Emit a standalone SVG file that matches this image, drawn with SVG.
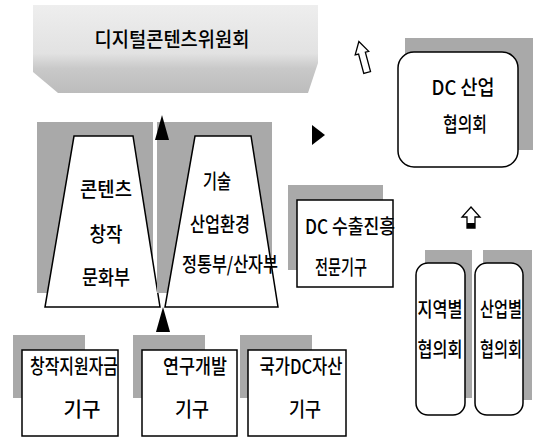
<svg xmlns="http://www.w3.org/2000/svg" width="536" height="437" viewBox="0 0 536 437">
<style>
.t{font-family:"Noto Sans CJK KR","Noto Sans",sans-serif;font-size:20px;font-weight:500;fill:#000;text-anchor:middle}
.box{fill:#fff;stroke:#000;stroke-width:1.5}
.sh{fill:#a9a9a9}
.arr{fill:#000}
.hol{fill:#fff;stroke:#000;stroke-width:1.3}
</style>
<defs>
<linearGradient id="bannerG" x1="0" y1="0" x2="0" y2="1">
<stop offset="0" stop-color="#eeeeee"/>
<stop offset="0.55" stop-color="#e2e2e2"/>
<stop offset="0.72" stop-color="#c9c9c9"/>
<stop offset="1" stop-color="#bcbcbc"/>
</linearGradient>
</defs>
<rect width="536" height="437" fill="#fff"/>

<g id="banner">
<polygon points="33,5 318,5 318,63 308,93 58,93 33,72" fill="url(#bannerG)"/>
<text class="t" x="172" y="47" font-size="25" textLength="155" lengthAdjust="spacingAndGlyphs">디지털콘텐츠위원회</text>
</g>

<g id="culture">
<rect class="sh" x="37" y="122" width="116" height="171"/>
<polygon class="box" points="74,136 133,136 160,307 45,307"/>
<text class="t" x="106" y="197" textLength="52" lengthAdjust="spacingAndGlyphs">콘텐츠</text>
<text class="t" x="106" y="242" textLength="33" lengthAdjust="spacingAndGlyphs">창작</text>
<text class="t" x="106" y="285" textLength="48" lengthAdjust="spacingAndGlyphs">문화부</text>
</g>

<g id="tech">
<rect class="sh" x="157" y="122" width="115" height="171"/>
<polygon class="box" points="195,136 251,136 278,307 165,307"/>
<text class="t" x="217" y="189" textLength="28" lengthAdjust="spacingAndGlyphs">기술</text>
<text class="t" x="220" y="232" textLength="60" lengthAdjust="spacingAndGlyphs">산업환경</text>
<text class="t" x="230" y="272" textLength="96" lengthAdjust="spacingAndGlyphs">정통부/산자부</text>
</g>

<g id="export">
<rect class="sh" x="288" y="185" width="95" height="85"/>
<rect class="box" x="297" y="200" width="96" height="87"/>
<text class="t" x="350" y="234" textLength="90" lengthAdjust="spacingAndGlyphs">DC 수출진흥</text>
<text class="t" x="341" y="275" textLength="52" lengthAdjust="spacingAndGlyphs">전문기구</text>
</g>

<g id="dc-council">
<rect class="sh" x="405" y="38" width="128" height="112"/>
<rect class="box" x="398" y="52" width="120" height="115" rx="16"/>
<text class="t" x="463" y="95" textLength="63" lengthAdjust="spacingAndGlyphs">DC 산업</text>
<text class="t" x="465" y="132" textLength="44" lengthAdjust="spacingAndGlyphs">협의회</text>
</g>

<g id="regional">
<rect class="sh" x="425" y="250" width="47" height="148"/>
<rect class="box" x="416" y="263" width="49" height="152" rx="12"/>
<text class="t" x="440" y="317" textLength="45" lengthAdjust="spacingAndGlyphs">지역별</text>
<text class="t" x="440" y="357" textLength="45" lengthAdjust="spacingAndGlyphs">협의회</text>
</g>

<g id="industry">
<rect class="sh" x="483" y="250" width="49" height="150"/>
<rect class="box" x="475" y="263" width="48" height="152" rx="12"/>
<text class="t" x="501" y="317" textLength="42" lengthAdjust="spacingAndGlyphs">산업별</text>
<text class="t" x="501" y="357" textLength="42" lengthAdjust="spacingAndGlyphs">협의회</text>
</g>

<g id="fund">
<rect class="sh" x="13" y="335" width="72" height="63"/>
<rect class="box" x="22" y="350" width="96" height="86"/>
<text class="t" x="74" y="374" textLength="88" lengthAdjust="spacingAndGlyphs">창작지원자금</text>
<text class="t" x="82" y="417" textLength="37" lengthAdjust="spacingAndGlyphs">기구</text>
</g>

<g id="rnd">
<rect class="sh" x="133" y="335" width="72" height="63"/>
<rect class="box" x="142" y="350" width="95" height="86"/>
<text class="t" x="195" y="374" textLength="64" lengthAdjust="spacingAndGlyphs">연구개발</text>
<text class="t" x="192" y="417" textLength="34" lengthAdjust="spacingAndGlyphs">기구</text>
</g>

<g id="assets">
<rect class="sh" x="240" y="335" width="72" height="63"/>
<rect class="box" x="248" y="350" width="98" height="86"/>
<text class="t" x="301" y="374" textLength="83" lengthAdjust="spacingAndGlyphs">국가DC자산</text>
<text class="t" x="305" y="417" textLength="32" lengthAdjust="spacingAndGlyphs">기구</text>
</g>

<g id="connectors">
<polygon class="arr" points="162,115 155,140 169,140"/>
<polygon class="arr" points="163,307 156,332 170,332"/>
<polygon class="arr" points="312,125 325,135 312,145"/>
<path class="hol" transform="translate(363,57) rotate(-15)" d="M0,-16 L7,-4 L3.5,-4 L3.5,16 L-3.5,16 L-3.5,-4 L-7,-4 Z"/>
<path class="hol" d="M471,207 L480,217 L475,217 L475,228 L467,228 L467,217 L462,217 Z"/>
<rect class="arr" x="467" y="223" width="8" height="5"/>
</g>
</svg>
